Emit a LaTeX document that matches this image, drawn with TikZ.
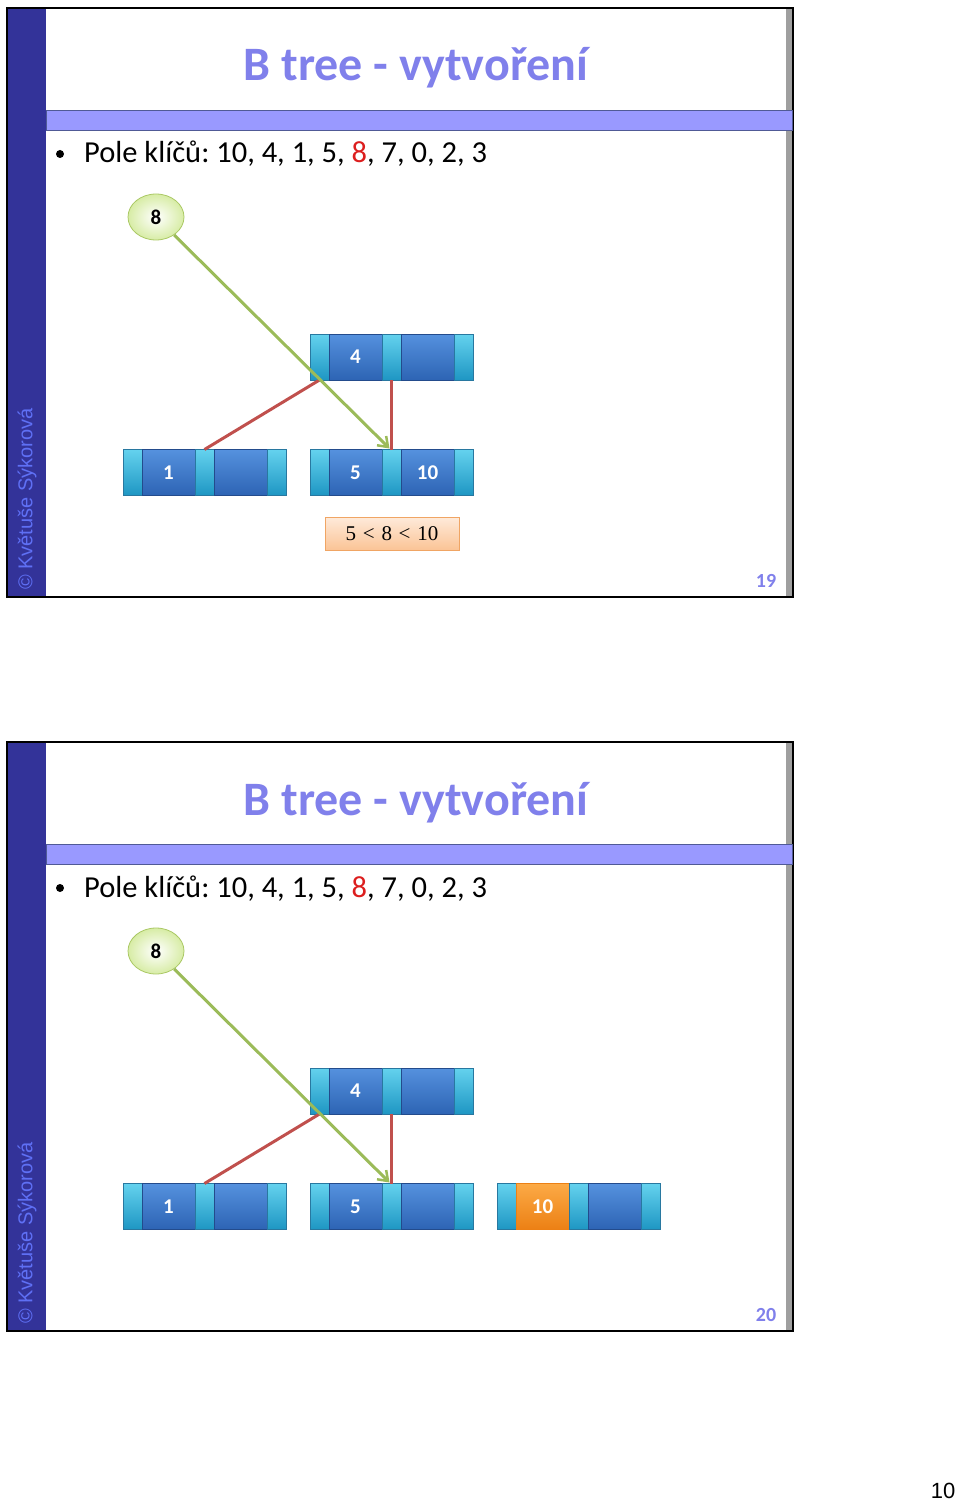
\documentclass[tikz,border=0pt]{standalone}
\usepackage[no-math]{fontspec}
\setmainfont{Carlito}
\newfontfamily\arialfont{Liberation Sans}
\newfontfamily\timesfont{Liberation Serif}
\usetikzlibrary{positioning,shapes.geometric,arrows.meta}
\frenchspacing

\definecolor{sidebar}{RGB}{51,51,153}
\definecolor{band}{RGB}{153,153,255}
\definecolor{bandline}{RGB}{80,90,150}
\definecolor{titlecol}{RGB}{128,128,235}
\definecolor{markcol}{RGB}{95,112,245}
\definecolor{ptrtop}{RGB}{100,210,238}
\definecolor{ptrbot}{RGB}{30,150,195}
\definecolor{ptrdark}{RGB}{40,120,160}
\definecolor{keytop}{RGB}{85,145,222}
\definecolor{keybot}{RGB}{45,100,180}
\definecolor{keydark}{RGB}{35,75,140}
\definecolor{newtop}{RGB}{252,170,70}
\definecolor{newbot}{RGB}{236,128,20}
\definecolor{greenline}{RGB}{155,187,89}
\definecolor{redline}{RGB}{192,80,77}
\definecolor{keyred}{RGB}{220,30,30}

\tikzset{
  ptr/.style={draw=ptrdark, line width=0.5pt, top color=ptrtop, bottom color=ptrbot,
    minimum width=19pt, minimum height=46pt, inner sep=0pt, outer sep=0pt},
  keybox/.style={ptr, draw=keydark, top color=keytop, bottom color=keybot,
    minimum width=53pt, text=white, font=\bfseries\fontsize{21}{21}\selectfont},
  newkey/.style={keybox, draw=newbot, top color=newtop, bottom color=newbot},
  insertkey/.style={ellipse, draw={rgb,255:red,170;green,200;blue,100}, line width=0.8pt,
    inner color=white, outer color={rgb,255:red,215;green,236;blue,165},
    minimum width=56pt, minimum height=46pt, inner sep=0pt,
    font=\bfseries\fontsize{21}{21}\selectfont},
  cmpbox/.style={draw={rgb,255:red,240;green,165;blue,100}, line width=0.6pt,
    top color={rgb,255:red,254;green,234;blue,218}, bottom color={rgb,255:red,251;green,196;blue,150},
    minimum width=134pt, minimum height=33pt, inner sep=0pt, font=\timesfont\fontsize{21}{21}\selectfont},
  treeline/.style={redline, line width=3pt},
  searchline/.style={greenline, line width=3pt, -{Straight Barb[length=9pt,width=13pt,line width=2.5pt]}},
  titletext/.style={anchor=base, text=titlecol, font=\bfseries\fontsize{48}{48}\selectfont},
  bodytext/.style={anchor=base west, inner sep=0pt, font=\fontsize{30.5}{30.5}\selectfont},
  pagenum/.style={anchor=base, text=titlecol, font=\bfseries\fontsize{20}{20}\selectfont},
  signature/.style={rotate=90, text=markcol, font=\arialfont\fontsize{20}{20}\selectfont}
}

% B-tree node: name, position of first pointer, key 1, key 2, style of key 1
\newcommand{\bnode}[5]{%
  \node[ptr] (#1p1) at #2 {};
  \node[#5, right=0pt of #1p1] (#1k1) {#3};
  \node[ptr, right=0pt of #1k1] (#1p2) {};
  \node[keybox, right=0pt of #1p2] (#1k2) {#4};
  \node[ptr, right=0pt of #1k2] (#1p3) {};}

% slide frame: y offset, page number
\newcommand{\slideframe}[2]{%
  \begin{scope}[shift={(0,#1)}]
    \fill[sidebar] (8,9) rectangle (46,596);
    \fill[gray!75] (786,9) rectangle (792,596);
    \draw[line width=2pt] (7,8) rectangle (793,597);
    \filldraw[fill=band, draw=bandline, line width=0.7pt] (46,110) rectangle (792,130);
    \node[titletext] (title#2) at (416,81) {B tree - vytvoření};
    \fill (60,154) circle (4pt);
    \node[bodytext] (keys#2) at (84,163) {Pole klíčů: 10, 4, 1, 5, {\color{keyred}8}, 7, 0, 2, 3};
    \node[pagenum] (page#2) at (766,587) {#2};
    \node[signature] (sign#2) at (27,499) {© Květuše Sýkorová};
  \end{scope}}

\newcommand{\gap}{\hspace{0.32em}}

\begin{document}
\begin{tikzpicture}[x=1pt,y=-1pt]
\useasboundingbox (0,0) rectangle (960,1503);

% slide 19
\slideframe{0}{19}
\bnode{root19}{(319.5,357)}{4}{}{keybox}
\bnode{lf19}{(132.5,472.5)}{1}{}{keybox}
\bnode{rt19}{(319.5,472.5)}{5}{10}{keybox}
\node[insertkey] (new19) at (156,217) {8};
\node[cmpbox] (cmp19) at (392,533.5) {5\gap<\gap8\gap<\gap10};
\draw[treeline] (root19p1.south) -- (lf19p2.north);
\draw[treeline] (root19p2.south) -- (rt19p2.north);
\draw[searchline] (new19) -- ([xshift=-2pt,yshift=1pt]rt19p2.north);

% slide 20
\slideframe{734}{20}
\bnode{root20}{(319.5,1091)}{4}{}{keybox}
\bnode{lf20}{(132.5,1206.5)}{1}{}{keybox}
\bnode{md20}{(319.5,1206.5)}{5}{}{keybox}
\bnode{rt20}{(506.5,1206.5)}{10}{}{newkey}
\node[insertkey] (new20) at (156,951) {8};
\draw[treeline] (root20p1.south) -- (lf20p2.north);
\draw[treeline] (root20p2.south) -- (md20p2.north);
\draw[searchline] (new20) -- ([xshift=-2pt,yshift=1pt]md20p2.north);

\node[anchor=base, font=\arialfont\fontsize{22}{22}\selectfont] (sheet) at (943,1498) {10};
\end{tikzpicture}
\end{document}
